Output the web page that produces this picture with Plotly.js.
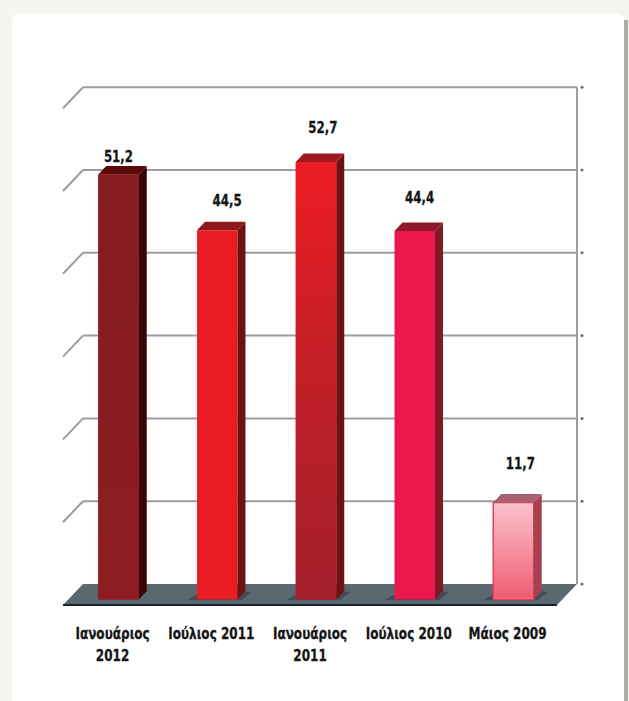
<!DOCTYPE html>
<html>
<head>
<meta charset="utf-8">
<script src="https://cdn.plot.ly/plotly-3.0.1.min.js"></script>
<style>html,body{margin:0;padding:0;background:#f4f5ee;overflow:hidden}
.xtick text,.textpoint text{stroke:#151515;stroke-width:.3px}</style>
</head>
<body>
<div id="chart" style="width:629px;height:701px"></div>
<script>
// ---- data ----
const categories = ["Ιανουάριος<br>2012", "Ιούλιος 2011", "Ιανουάριος<br>2011", "Ιούλιος 2010", "Μάιος 2009"];
const values = [51.2, 44.5, 52.7, 44.4, 11.7];
const valueLabels = ["51,2", "44,5", "52,7", "44,4", "11,7"];
const gridValues = [0, 10, 20, 30, 40, 50, 60];

// ---- styling ----
const frontColors = ["#8a1c21", "#ec1c24", "#c01f27", "#ec174b", "#f48a98"];
const sideColors  = ["#3a0406", "#6f1014", "#6f1014", "#7e1a26", "#a8404f"];
const topColors   = ["#5a0808", "#8c181c", "#9e1a1e", "#8e1a2c", "#a9616f"];
const frontGradients = {
  0: [[0, "#8d1c20"], [1, "#851c20"]],
  2: [[0, "#a31f2b"], [0.55, "#c41e26"], [1, "#ee1c24"]],
  4: [[0, "#ee5d73"], [1, "#fbc3cb"]]
};
const labelLift = [2.0, 3.4, 4.0, 3.8, 4.5];   // gap between bar top and its label, axis units
const labelShift = [0, 0.1, 0.07, 0.05, 0.07]; // sideways label shift, category units
const tickShift = -0.06;
const textFamily = "'DejaVu Sans','Liberation Sans',sans-serif";
const tickSqueeze = 0.73, labelSqueeze = 0.74;

// ---- geometry: one category = 98.75px, one value unit = 8.3px ----
const W = 629, H = 701, plotBottom = 608;
const ux = 98.75, uy = 8.3, x0px = 118.5, y0px = 599.5;
const X = p => (p - x0px) / ux;
const Y = p => (y0px - p) / uy;
const PX = p => p / W;
const PY = p => 1 - p / plotBottom;
const barW = 0.41, dx = 8 / ux, dy = 8.5 / uy;
const wallDy = 15.5 / uy;
const wallY = v => v * 8.28 / uy + wallDy;
const wallL = X(83), wallR = X(577), depth = 20 / ux, depthY = 21 / uy;

// ---- frame shapes ----
const gridColor = "#9b9d9f";
const shapes = [];
const cardL = 12, cardR = 624, cardT = 13, r = 9;
shapes.push({type:"rect", xref:"paper", yref:"paper", x0:PX(624), x1:PX(628), y0:PY(701), y1:PY(20),
  fillcolor:"#abaeac", line:{width:0}, layer:"below"});
shapes.push({type:"path", xref:"paper", yref:"paper", layer:"below", fillcolor:"#ffffff", line:{width:0},
  path:`M ${PX(cardL)} ${PY(H)} L ${PX(cardL)} ${PY(cardT+r)} Q ${PX(cardL)} ${PY(cardT)} ${PX(cardL+r)} ${PY(cardT)} L ${PX(cardR-r)} ${PY(cardT)} Q ${PX(cardR)} ${PY(cardT)} ${PX(cardR)} ${PY(cardT+r)} L ${PX(cardR)} ${PY(H)} Z`});
gridValues.forEach(v => {
  const y = wallY(v);
  if (v > 0) {
    shapes.push({type:"line", xref:"x", yref:"y", layer:"below", x0:wallL, x1:wallR, y0:y, y1:y, line:{color:gridColor, width:2}});
    shapes.push({type:"line", xref:"x", yref:"y", layer:"below", x0:wallL, x1:wallL-depth, y0:y, y1:y-depthY, line:{color:gridColor, width:2}});
  }
});
shapes.push({type:"line", xref:"x", yref:"y", layer:"below", x0:wallR, x1:wallR, y0:wallY(0), y1:wallY(60), line:{color:gridColor, width:2}});
// floor
shapes.push({type:"path", xref:"x", yref:"y", layer:"below", fillcolor:"#5a696f", line:{width:0},
  path:`M ${wallL-depth} ${wallY(0)-depthY} L ${wallL} ${wallY(0)} L ${wallR} ${wallY(0)} L ${wallR-depth} ${wallY(0)-depthY} Z`});
shapes.push({type:"line", xref:"x", yref:"y", layer:"below", x0:wallL-depth, x1:wallR-depth, y0:wallY(0)-depthY, y1:wallY(0)-depthY, line:{color:"#16262c", width:2}});
// contact shadows on the floor
categories.forEach((c,i) => {
  if (i === 0) return;
  const l = i - barW/2 - 0.1, rr = i + barW/2 + 0.14;
  shapes.push({type:"path", xref:"x", yref:"y", layer:"below", fillcolor:"#3f4e53", line:{width:0},
    path:`M ${l} -0.1 L ${i-barW/2} 0.6 L ${i+barW/2+dx} 1 L ${rr} 0.9 L ${i+barW/2+0.04} -0.1 Z`});
});

// ---- traces ----
const traces = [];
const poly = (xs, ys, color, extra) => Object.assign({type:"scatter", mode:"lines", x:xs.concat(xs[0]), y:ys.concat(ys[0]),
  fill:"toself", fillcolor:color, line:{width:0, color:color}, hoverinfo:"skip", showlegend:false}, extra||{});

// front faces: real bars
traces.push({type:"bar", x:categories.map((c,i)=>i), y:values, base:0, width:barW,
  marker:{color:frontColors, line:{color:["#8a1c21","#ec1c24","#c01f27","#ec174b","#e23f5a"], width:[0,0,0,0,1.5]}},
  hoverinfo:"x+y", showlegend:false});

values.forEach((v,i) => {
  const l = i - barW/2, rr = i + barW/2;
  traces.push(poly([rr, rr+dx, rr+dx, rr], [0, dy, v+dy, v], sideColors[i]));
  traces.push(poly([l, l+dx, rr+dx, rr], [v, v+dy, v+dy, v], topColors[i]));
  if (frontGradients[i]) {
    const inset = i === 4 ? 0.008 : 0;
    const vi = i === 4 ? 0.12 : 0;
    traces.push({type:"scatter", mode:"lines", x:[l+inset, rr-inset, rr-inset, l+inset, l+inset], y:[vi, vi, v-vi, v-vi, vi],
      fill:"toself", fillcolor:frontColors[i],
      fillgradient:{type:"vertical", colorscale:frontGradients[i]},
      line:{width:0}, hoverinfo:"skip", showlegend:false});
  }
});

// right-hand tick dots
traces.push({type:"scatter", mode:"markers", x:gridValues.map(()=>X(582)), y:gridValues.map(wallY),
  marker:{size:3, color:"#6d6668"}, hoverinfo:"skip", showlegend:false});

// value labels
traces.push({type:"scatter", mode:"text", x:values.map((v,i)=>i+labelShift[i]), y:values.map((v,i)=>v+labelLift[i]),
  text:valueLabels, textposition:"middle center",
  textfont:{family:textFamily, size:16, color:"#151515", weight:"bold"},
  hoverinfo:"skip", showlegend:false});

const layout = {
  width:W, height:H,
  margin:{l:0, r:0, t:0, b:H-plotBottom, pad:0},
  paper_bgcolor:"#f4f5ee", plot_bgcolor:"rgba(0,0,0,0)",
  showlegend:false, bargap:0,
  xaxis:{type:"linear", range:[X(0), X(W)], showgrid:false, zeroline:false, showline:false, ticks:"",
    tickmode:"array", tickvals:categories.map((c,i)=>i+tickShift), ticktext:categories,
    tickangle:0, ticklabelstandoff:14,
    tickfont:{family:textFamily, size:16.5, color:"#151515", weight:"bold"}},
  yaxis:{range:[Y(plotBottom), Y(0)], visible:false, showgrid:false, zeroline:false},
  shapes:shapes
};
Plotly.newPlot("chart", traces, layout, {displayModeBar:false, staticPlot:true}).then(gd => {
  // the reference type is a heavy condensed face: squeeze the real text horizontally around its anchor
  const squeeze = (sel, s) => gd.querySelectorAll(sel).forEach(t => {
    const x = parseFloat(t.getAttribute("x")) || 0;
    const old = t.getAttribute("transform") || "";
    t.setAttribute("transform", `${old} translate(${x},0) scale(${s},1) translate(${-x},0)`);
  });
  squeeze(".xtick text", tickSqueeze);
  squeeze(".textpoint text", labelSqueeze);
});
</script>
</body>
</html>
